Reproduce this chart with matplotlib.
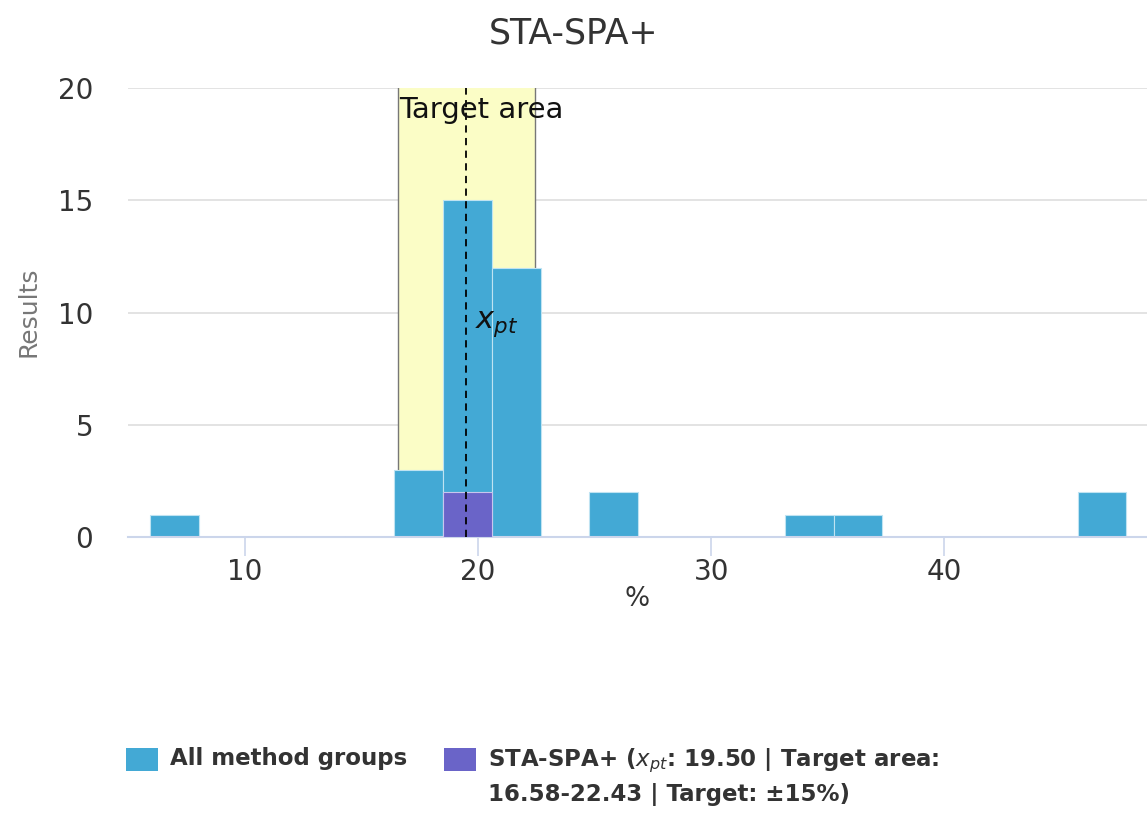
import numpy as np
import matplotlib.pyplot as plt
from matplotlib.patches import Rectangle

# Datos del histograma
bin_start = 5.92
bin_width = 2.095
all_counts = [1, 0, 0, 0, 0, 3, 15, 12, 0, 2, 0, 0, 0, 1, 1, 0, 0, 0, 0, 2]
lab_counts = [0, 0, 0, 0, 0, 0, 2, 0, 0, 0, 0, 0, 0, 0, 0, 0, 0, 0, 0, 0]
x_pt = 19.50
target_low = 16.58
target_high = 22.43
x_ticks = [10, 20, 30, 40]
y_ticks = [0, 5, 10, 15, 20]
legend_labels = ['All method groups',
                 'STA-SPA+ ($x_{pt}$: 19.50 | Target area:\n16.58-22.43 | Target: ±15%)']

edges = bin_start + bin_width * np.arange(len(all_counts))

col_all = '#43a9d5'
col_lab = '#6a64c8'
W, H = 1147, 814

fig = plt.figure(figsize=(W / 100, H / 100), dpi=100)
ax = fig.add_axes([128 / W, 1 - 537 / H, 1 - 128 / W, (537 - 88) / H])

# zona objetivo
ax.axvspan(target_low, target_high, facecolor='#fbfdc6', edgecolor='none', zorder=1)
ax.plot([target_low, target_low], [0, 20], color='#777777', lw=1, zorder=1.5)
ax.plot([target_high, target_high], [0, 20], color='#777777', lw=1, zorder=1.5)

ax.bar(edges, all_counts, width=bin_width, align='edge', color=col_all,
       edgecolor='#bfe3f2', linewidth=0.8, zorder=2)
ax.bar(edges, lab_counts, width=bin_width, align='edge', color=col_lab,
       edgecolor='#c8c6ee', linewidth=0.8, zorder=3)

ax.axvline(x_pt, color='black', ls=(0, (4, 3)), lw=1.3, zorder=4)
ax.text(target_low + 0.05, 19.65, 'Target area', fontsize=21, color='#111111',
        va='top', ha='left', zorder=5)
ax.text(x_pt + 0.35, 9.5, '$x_{pt}$', fontsize=22, color='#111111',
        va='center', ha='left', zorder=5)

ax.set_xlim(4.98, 48.7)
ax.set_ylim(0, 20)
ax.set_xticks(x_ticks)
ax.set_yticks(y_ticks)
ax.yaxis.grid(True, color='#e0e0e0', lw=1.3)
ax.set_axisbelow(True)
for s in ['top', 'right', 'left']:
    ax.spines[s].set_visible(False)
ax.spines['bottom'].set_color('#ccd6eb')
ax.spines['bottom'].set_linewidth(1.5)
ax.tick_params(axis='x', colors='#ccd6eb', length=14, width=1.2, labelsize=20,
               labelcolor='#333333', pad=1)
ax.tick_params(axis='y', length=0, labelsize=20, labelcolor='#333333', pad=25)
ax.set_xlabel('%', fontsize=19, color='#333333', labelpad=0)

fig.text(28 / W, 1 - 312 / H, 'Results', fontsize=18, color='#777777',
         rotation=90, ha='center', va='center')
fig.text(0.5, 1 - 33 / H, 'STA-SPA+', fontsize=25, color='#333333',
         ha='center', va='center')

# leyenda manual
legend_cols = [col_all, col_lab]
legend_x = [126, 444]
for c, lx, lab in zip(legend_cols, legend_x, legend_labels):
    fig.add_artist(Rectangle((lx / W, 1 - 771 / H), 32 / W, 23 / H,
                             transform=fig.transFigure, facecolor=c,
                             edgecolor='none'))
    fig.text((lx + 44) / W, 1 - 747 / H, lab, fontsize=16.5, fontweight='bold',
             color='#333333', ha='left', va='top', linespacing=1.45)

fig.savefig('out.png', dpi=100)
